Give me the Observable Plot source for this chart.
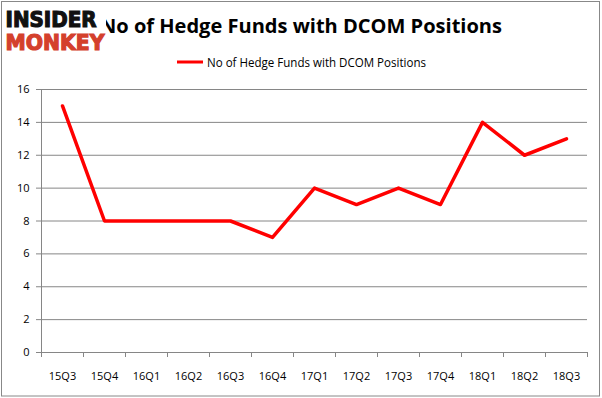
<!DOCTYPE html>
<html><head><meta charset="utf-8">
<script src="https://cdn.jsdelivr.net/npm/d3@7"></script>
<script src="https://cdn.jsdelivr.net/npm/@observablehq/plot@0.6"></script>
<style>
body{margin:0;background:#fff;}
#wrap{position:relative;width:602px;height:398px;overflow:hidden;font-family:"Open Sans",sans-serif;}
#wrap svg{position:absolute;left:0;top:0;}
</style></head><body><div id="wrap"></div>
<script>
const quarters = ["15Q3","15Q4","16Q1","16Q2","16Q3","16Q4","17Q1","17Q2","17Q3","17Q4","18Q1","18Q2","18Q3"];
const funds = [15,8,8,8,8,7,10,9,10,9,14,12,13];
const yTicks = [0,2,4,6,8,10,12,14,16];
const titleText = "No of Hedge Funds with DCOM Positions";
const legendText = "No of Hedge Funds with DCOM Positions";

const data = quarters.map((q,i)=>({i,q,v:funds[i]}));
const bounds = d3.range(quarters.length+1).map(k=>k-0.5);

const chart = Plot.plot({
  width:602,height:398,
  marginLeft:41, marginRight:15, marginTop:89, marginBottom:46,
  style:{fontFamily:"Open Sans", fontSize:"11px", color:"#000", background:"transparent"},
  x:{type:"linear", domain:[-0.5, quarters.length-0.5]},
  y:{domain:[0,16]},
  marks:[
    Plot.gridY(yTicks,{stroke:"#868686",strokeOpacity:1}),
    Plot.ruleX([-0.5],{stroke:"#868686"}),
    Plot.ruleY([0],{stroke:"#868686"}),
    Plot.axisY(yTicks,{tickSize:5,tickPadding:7,stroke:"#868686",fill:"#000",label:null}),
    Plot.axisX(bounds,{tickSize:5,tickFormat:()=>"",stroke:"#868686",label:null}),
    Plot.axisX(data.map(d=>d.i),{tickSize:0,tickPadding:20,tickFormat:i=>quarters[i],fill:"#000",label:null}),
    Plot.line(data,{x:"i",y:"v",stroke:"#ff0000",strokeWidth:3.5})
  ]
});
const wrap = document.getElementById("wrap");
wrap.appendChild(chart);

const ns="http://www.w3.org/2000/svg";
const ov=d3.create("svg").attr("width",602).attr("height",398).attr("xmlns",ns);
ov.append("rect").attr("x",1.5).attr("y",1.5).attr("width",598).attr("height",394.5).attr("fill","none").attr("stroke","#888");
ov.append("text").attr("x",301).attr("y",33).attr("text-anchor","middle")
  .attr("font-family","Open Sans").attr("font-weight","bold").attr("font-size",20)
  .attr("textLength",402).attr("lengthAdjust","spacingAndGlyphs").attr("fill","#000").text(titleText);
ov.append("line").attr("x1",177).attr("x2",203).attr("y1",62).attr("y2",62).attr("stroke","#ff0000").attr("stroke-width",3);
ov.append("text").attr("x",207).attr("y",66.5).attr("font-family","Open Sans").attr("font-size",12)
  .attr("textLength",219).attr("lengthAdjust","spacingAndGlyphs").attr("fill","#000").text(legendText);
ov.append("rect").attr("x",3).attr("y",3).attr("width",103).attr("height",49).attr("fill","#fff");
ov.append("text").attr("x",5.5).attr("y",27).attr("font-family","DejaVu Sans").attr("font-weight","bold").attr("font-size",21)
  .attr("textLength",91).attr("lengthAdjust","spacingAndGlyphs").attr("fill","#111").attr("stroke","#111").attr("stroke-width",1.2).text("INSIDER");
ov.append("text").attr("x",5.5).attr("y",50).attr("font-family","DejaVu Sans").attr("font-weight","bold").attr("font-size",21)
  .attr("textLength",99).attr("lengthAdjust","spacingAndGlyphs").attr("fill","#d4402c").attr("stroke","#d4402c").attr("stroke-width",1.2).text("MONKEY");
wrap.appendChild(ov.node());
</script></body></html>
